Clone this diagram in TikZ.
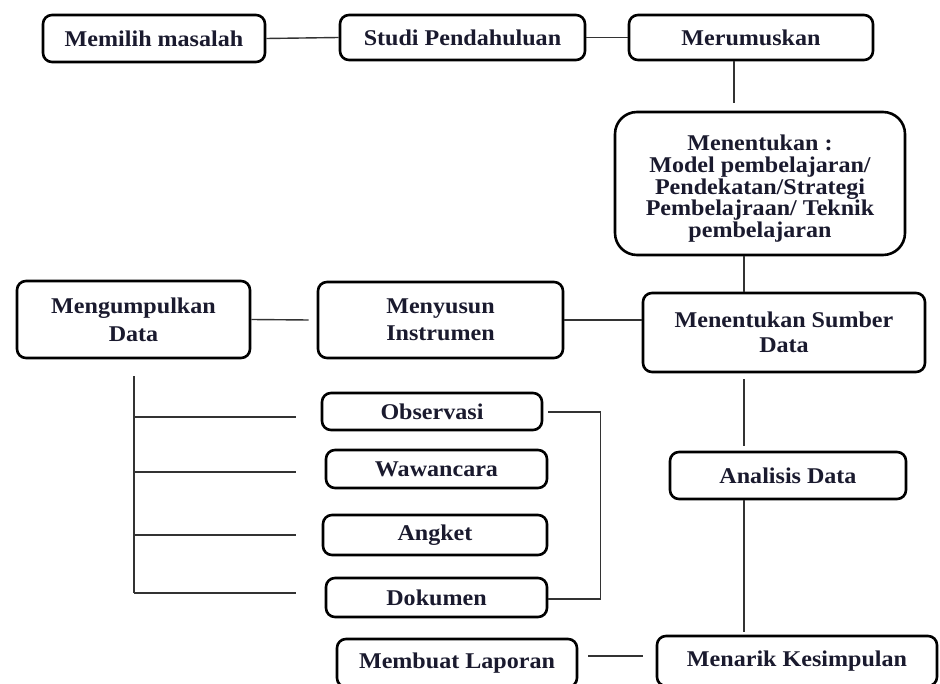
\documentclass[tikz,border=0pt]{standalone}
\usepackage{fontspec}
\setmainfont{Liberation Serif}[FakeStretch=1.07]
\usetikzlibrary{calc}
\definecolor{txt}{HTML}{1A1A2E}
\definecolor{conn}{HTML}{333333}
\begin{document}
\begin{tikzpicture}[x=1pt,y=-1pt,
  box/.style={draw=black,line width=2.6pt,rounded corners=9pt,fill=white,
    align=center,inner sep=0pt,text=txt,
    font=\fontsize{22.5}{26}\selectfont\bfseries},
  bigbox/.style={box,rounded corners=22pt,font=\fontsize{22.5}{21.7}\selectfont\bfseries},
  connline/.style={draw=conn,line width=1.4pt}]
\clip (0,0) rectangle (940,684);
\fill[white] (0,0) rectangle (940,684);
% nodes
\node[box,minimum width=222pt,minimum height=47pt] (memilih) at (154,38.5) {Memilih masalah};
\node[box,minimum width=245pt,minimum height=45pt] (studi) at (462.5,37.5) {Studi Pendahuluan};
\node[box,minimum width=244pt,minimum height=45pt] (merumus) at (751,37.5) {Merumuskan};
\node[bigbox,minimum width=290pt,minimum height=143pt] (menentukan) at (760,183.5)
  {\rule{0pt}{26pt}Menentukan :\\Model pembelajaran/\\Pendekatan/Strategi\\Pembelajraan/ Teknik\\pembelajaran};
\node[box,minimum width=233pt,minimum height=77pt,font=\fontsize{22.5}{28}\selectfont\bfseries] (mengumpul) at (133.5,319.5) {Mengumpulkan\\Data};
\node[box,minimum width=245pt,minimum height=76pt,font=\fontsize{22.5}{27}\selectfont\bfseries] (menyusun) at (440.5,320) {Menyusun\\Instrumen};
\node[box,minimum width=282pt,minimum height=79pt,font=\fontsize{22.5}{25}\selectfont\bfseries] (sumber) at (784,332.5) {Menentukan Sumber\\Data};
\node[box,minimum width=220pt,minimum height=37pt] (observasi) at (432,411.5) {Observasi};
\node[box,minimum width=221pt,minimum height=38pt] (wawancara) at (436.5,469) {Wawancara};
\node[box,minimum width=224pt,minimum height=40pt] (angket) at (435,535) {Angket};
\node[box,minimum width=221pt,minimum height=39pt] (dokumen) at (436.5,597.5) {Dokumen};
\node[box,minimum width=236pt,minimum height=47pt] (analisis) at (788,475.5) {Analisis Data};
\node[box,minimum width=240pt,minimum height=48pt] (laporan) at (457,663) {Membuat Laporan};
\node[box,minimum width=280pt,minimum height=50pt] (menarik) at (797,661) {Menarik Kesimpulan};
% helper coordinates
\coordinate (vx1) at (734,0);
\coordinate (vx2) at (744,0);
\coordinate (lb) at (134,0);
% connectors
\draw[connline] (memilih.east) -- (studi.west);
\draw[connline] (studi.east) -- (merumus.west);
\draw[connline] (merumus.south -| vx1) -- ($(menentukan.north -| vx1)+(0,-8)$);
\draw[connline] (menentukan.south -| vx2) -- (sumber.north -| vx2);
\draw[connline] (mengumpul.east) -- ($(menyusun.west)+(-8,0)$);
\draw[connline] (menyusun.east) -- (menyusun.east -| sumber.west);
\draw[connline] ($(sumber.south -| vx2)+(0,6)$) -- ($(analisis.north -| vx2)+(0,-5)$);
\draw[connline] (analisis.south -| vx2) -- ($(menarik.north -| vx2)+(0,-3)$);
\draw[connline] ($(laporan.east)+(10,-7)$) -- ($(menarik.west)+(-13,-5)$);
% left bracket
\draw[connline] ($(mengumpul.south)+(0.5,17)$) -- ($(dokumen.west -| lb)+(0,-4.5)$);
\draw[connline] ($(observasi.west -| lb)+(0,5.5)$) -- ($(observasi.west)+(-25,5.5)$);
\draw[connline] ($(wawancara.west -| lb)+(0,3)$) -- ($(wawancara.west)+(-29,3)$);
\draw[connline] (angket.west -| lb) -- ($(angket.west)+(-26,0)$);
\draw[connline] ($(dokumen.west -| lb)+(0,-4.5)$) -- ($(dokumen.west)+(-29,-4.5)$);
% right bracket
\draw[connline] ($(observasi.east)+(5,0.5)$) -- ++(52,0) |- ($(dokumen.east)+(0,1.5)$);
\end{tikzpicture}
\end{document}
